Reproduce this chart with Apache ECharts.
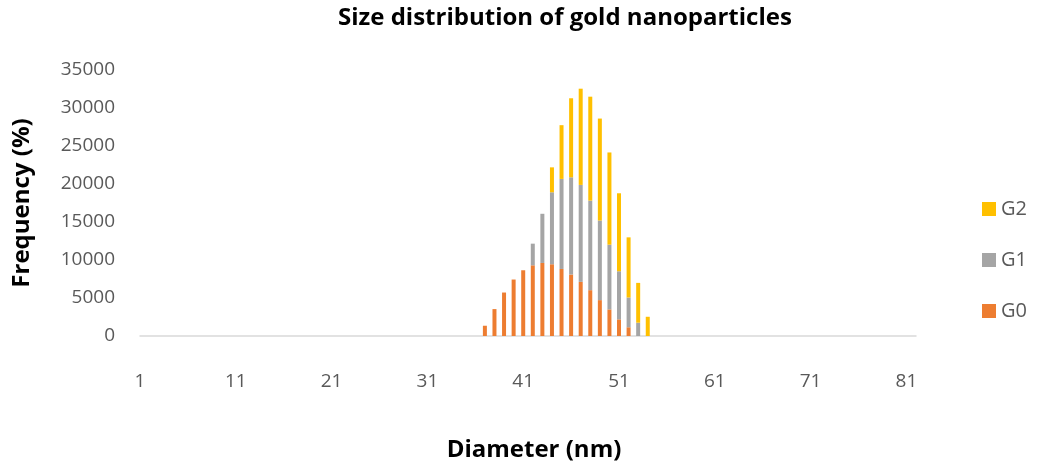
<!DOCTYPE html>
<html>
<head>
<meta charset="utf-8">
<script src="https://cdn.jsdelivr.net/npm/echarts@6/dist/echarts.min.js"></script>
<style>
  html, body { margin: 0; padding: 0; background: #fff; }
  #chart { width: 1050px; height: 462px; }
</style>
</head>
<body>
<div id="chart"></div>
<script>
// diameters 1..82 nm
const diameters = []
for (let d = 1; d <= 82; d++) diameters.push(String(d))

// values, first non-zero at 37 nm
const startAt = 37
const g0Values = [1350, 3540, 5720, 7430, 8650, 9300, 9610, 9440, 8820, 8090, 7120, 6030, 4720, 3500, 2190, 1150, 0, 0]
const g1Values = [0, 0, 0, 0, 0, 2850, 6470, 9470, 11850, 12790, 12760, 11790, 10480, 8520, 6330, 3920, 1750, 0]
const g2Values = [0, 0, 0, 0, 0, 0, 0, 3280, 7070, 10400, 12660, 13670, 13410, 12130, 10260, 7910, 5240, 2530]

const seriesNames = ['G0', 'G1', 'G2']
const seriesColors = ['#ED7D31', '#A5A5A5', '#FFC000']
const yTicks = { min: 0, max: 35000, interval: 5000 }

// pad a short list out to the full category range
function fullRow (vals) {
  return diameters.map((d, i) => {
    const k = i + 1 - startAt
    return k >= 0 && k < vals.length ? vals[k] : 0
  })
}

const rows = [g0Values, g1Values, g2Values]
const font = '"Open Sans", sans-serif'

let myChart = echarts.init(document.getElementById('chart'))
let option = {
  backgroundColor: '#ffffff',
  animation: false,
  title: {
    text: 'Size distribution of gold nanoparticles',
    left: 333,
    top: 1,
    textStyle: { fontFamily: font, fontWeight: 'bold', fontSize: 24, color: '#000' }
  },
  legend: {
    orient: 'vertical',
    left: 977,
    top: 194,
    icon: 'rect',
    itemWidth: 14,
    itemHeight: 14,
    itemGap: 31,
    data: ['G2', 'G1', 'G0'],
    textStyle: { fontFamily: font, fontSize: 20, color: '#595959' }
  },
  // keep the plot box fixed, names may hang out of it
  grid: { left: 140, right: 134, top: 70, bottom: 126, outerBoundsMode: 'none' },
  xAxis: {
    type: 'category',
    data: diameters,
    boundaryGap: false,
    name: 'Diameter (nm)',
    nameLocation: 'middle',
    nameGap: 102,
    nameTextStyle: { fontFamily: font, fontWeight: 'bold', fontSize: 24, color: '#000', padding: [0, 0, 0, 12] },
    axisLine: { lineStyle: { color: '#d9d9d9', width: 1.5 } },
    axisTick: { show: false },
    axisLabel: { interval: 9, margin: 36, fontFamily: font, fontSize: 19, color: '#595959' },
    splitLine: { show: false }
  },
  yAxis: {
    type: 'value',
    min: yTicks.min,
    max: yTicks.max,
    interval: yTicks.interval,
    name: 'Frequency (%)',
    nameLocation: 'middle',
    nameGap: 106,
    nameTextStyle: { fontFamily: font, fontWeight: 'bold', fontSize: 24, color: '#000' },
    axisLine: { show: false },
    axisTick: { show: false },
    axisLabel: { margin: 25, fontFamily: font, fontSize: 19, color: '#595959', formatter: v => String(v) },
    splitLine: { show: false }
  },
  series: seriesNames.map((name, i) => ({
    name: name,
    type: 'bar',
    stack: 'total',
    barWidth: 4,
    itemStyle: { color: seriesColors[i] },
    data: fullRow(rows[i])
  }))
}
myChart.setOption(option)
</script>
</body>
</html>
